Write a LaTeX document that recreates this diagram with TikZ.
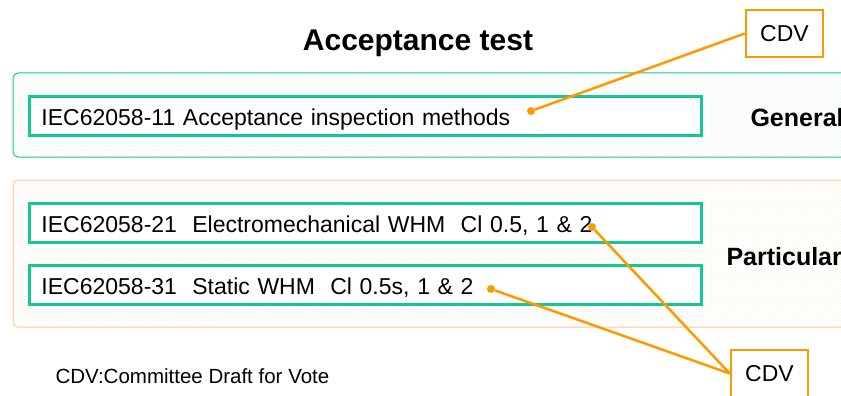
\documentclass[tikz,border=0pt]{standalone}
\usepackage{fontspec}
\setmainfont{Liberation Sans}
\usetikzlibrary{patterns}
\definecolor{iecgreen}{RGB}{20,200,150}
\definecolor{cdvorange}{RGB}{255,153,0}
\definecolor{dotgreen}{RGB}{185,235,195}
\definecolor{dotorange}{RGB}{255,215,175}
\definecolor{panelorange}{RGB}{255,200,150}

\begin{document}
\begin{tikzpicture}[x=1pt,y=-1pt,font=\fontsize{23}{27}\selectfont,
  std/.style={draw=iecgreen,line width=3pt,fill=white,text width=648pt,inner xsep=12pt,inner ysep=0pt,minimum height=39pt,text height=18.6pt,text depth=0pt,anchor=west,align=left},
  cdvbox/.style={draw=cdvorange,line width=2.5pt,fill=white,minimum width=77pt,minimum height=47pt,inner sep=0pt},
  dot/.style={circle,fill=cdvorange,inner sep=0pt,minimum size=8pt},
  link/.style={draw=cdvorange,line width=2.5pt}]
\useasboundingbox (0,0) rectangle (841,396); \clip (0,0) rectangle (841,396);
% panels
\draw[draw=iecgreen,line width=1pt,rounded corners=5pt,pattern=dots,pattern color=dotgreen] (13,73) rectangle (860,157);
\draw[draw=panelorange,line width=1pt,rounded corners=5pt,pattern=dots,pattern color=dotorange] (13,180) rectangle (860,327);
\node[font=\fontsize{30}{34}\selectfont\bfseries] (title) at (418,43) {Acceptance test};
\node[std] (p11) at (28,116) {IEC62058-11 Acceptance inspection methods};
\node[std] (p21) at (28,223) {IEC62058-21\ \ Electromechanical WHM\ \ Cl 0.5, 1 \& 2};
\node[std] (p31) at (28,285) {IEC62058-31\ \ Static WHM\ \ Cl 0.5s, 1 \& 2};
\node[anchor=west,font=\fontsize{25}{29}\selectfont\bfseries] (general) at (747,118) {General};
\node[anchor=west,font=\fontsize{25}{29}\selectfont\bfseries] (particular) at (723,257) {Particular};
\node[cdvbox] (cdv1) at (784.5,33.5) {CDV};
\node[cdvbox] (cdv2) at (769.5,373.5) {CDV};
\node[dot] (d1) at (531,111) {}; \node[dot] (d2) at (592,227) {}; \node[dot] (d3) at (491,289) {};
\draw[link] (d1) -- (cdv1.west);
\draw[link] (d2) -- (cdv2.west); \draw[link] (d3) -- (cdv2.west);
\node[anchor=west,font=\fontsize{20.5}{24}\selectfont] (note) at (52,376) {CDV:Committee Draft for Vote};
\end{tikzpicture}
\end{document}
